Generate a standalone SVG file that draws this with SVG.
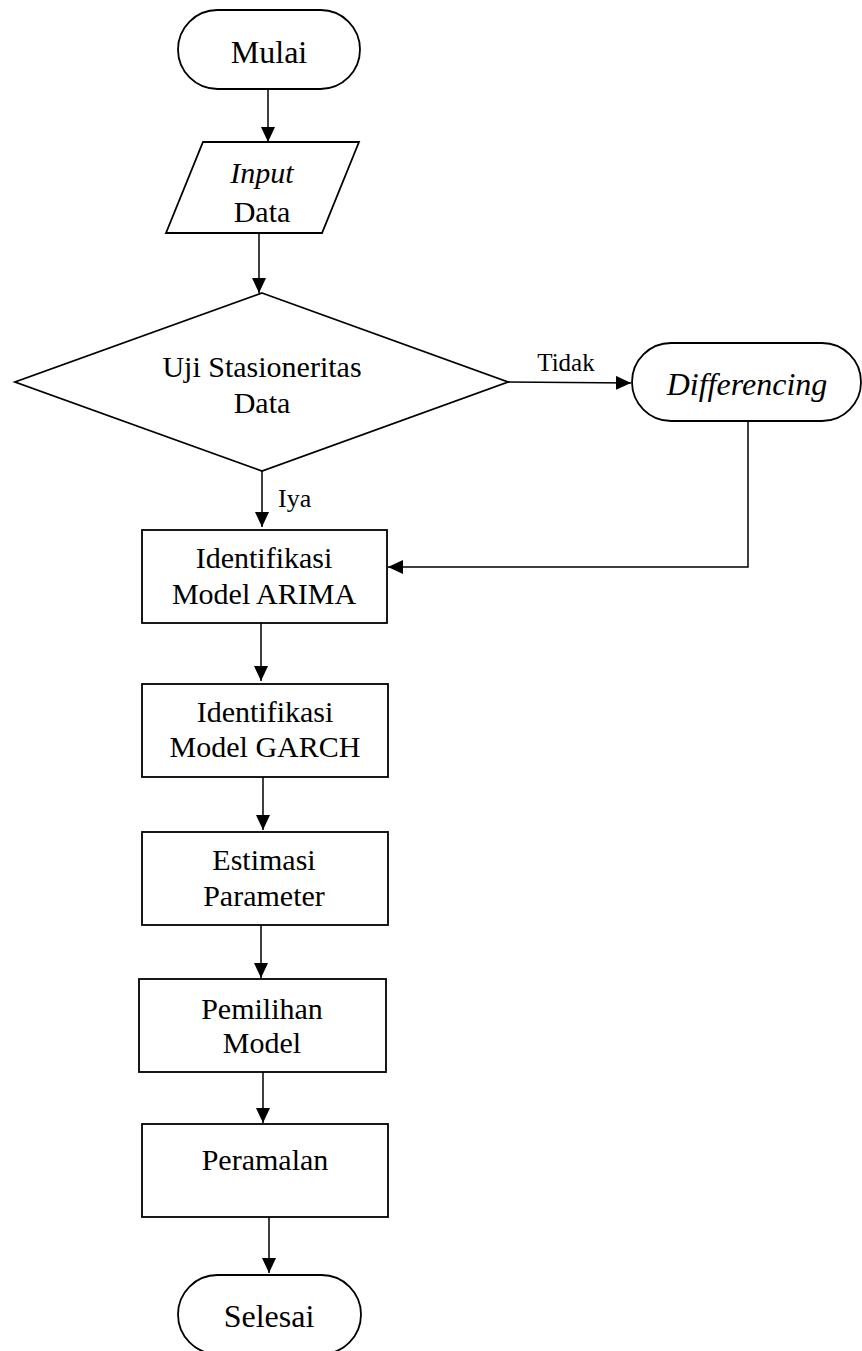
<svg xmlns="http://www.w3.org/2000/svg" width="862" height="1351" viewBox="0 0 862 1351">
<style>
.s{fill:#fff;stroke:#000;stroke-width:1.8}
.c{fill:none;stroke:#000;stroke-width:1.5}
.t{font-family:"Liberation Serif","Times New Roman",serif;fill:#000;text-anchor:middle}
.b{font-size:30px}
.m{font-size:32px}
.l{font-size:25px}
.i{font-style:italic}
</style>
<defs>
<marker id="ah" markerWidth="15" markerHeight="14" refX="15" refY="7" orient="auto" markerUnits="userSpaceOnUse">
<path d="M0,0 L15,7 L0,14 Z" fill="#000"/>
</marker>
</defs>
<rect width="862" height="1351" fill="#fff"/>
<g id="connectors">
<line class="c" x1="268" y1="89" x2="268" y2="142" marker-end="url(#ah)"/>
<line class="c" x1="259" y1="233" x2="259" y2="293" marker-end="url(#ah)"/>
<line class="c" x1="508" y1="382" x2="631" y2="383" marker-end="url(#ah)"/>
<line class="c" x1="262" y1="471" x2="262" y2="527" marker-end="url(#ah)"/>
<polyline class="c" points="748,421 748,567 388,567" marker-end="url(#ah)"/>
<line class="c" x1="261" y1="623" x2="261" y2="681" marker-end="url(#ah)"/>
<line class="c" x1="263" y1="777" x2="263" y2="830" marker-end="url(#ah)"/>
<line class="c" x1="261" y1="925" x2="261" y2="978" marker-end="url(#ah)"/>
<line class="c" x1="263" y1="1072" x2="263" y2="1123" marker-end="url(#ah)"/>
<line class="c" x1="269" y1="1217" x2="269" y2="1273" marker-end="url(#ah)"/>
<text class="t l" x="566" y="371">Tidak</text>
<text class="t l" x="278" y="507" style="text-anchor:start;font-size:26px">Iya</text>
</g>
<g id="mulai">
<rect class="s" x="178" y="10" width="182" height="79" rx="39.5"/>
<text class="t m" x="269" y="63">Mulai</text>
</g>
<g id="input">
<polygon class="s" points="203,142 359,142 322,233 166,233"/>
<text class="t b i" x="262" y="183">Input</text>
<text class="t b" x="262" y="222">Data</text>
</g>
<g id="uji">
<polygon class="s" points="262,293 508,382 262,471 15,382"/>
<text class="t b" x="262" y="377">Uji Stasioneritas</text>
<text class="t b" x="262" y="413">Data</text>
</g>
<g id="differencing">
<rect class="s" x="632" y="343" width="229" height="78" rx="39"/>
<text class="t m i" x="747" y="395">Differencing</text>
</g>
<g id="arima">
<rect class="s" x="142" y="530" width="245" height="93"/>
<text class="t b" x="264" y="568">Identifikasi</text>
<text class="t b" x="264" y="604">Model ARIMA</text>
</g>
<g id="garch">
<rect class="s" x="142" y="684" width="246" height="93"/>
<text class="t b" x="265" y="722">Identifikasi</text>
<text class="t b" x="265" y="757">Model GARCH</text>
</g>
<g id="estimasi">
<rect class="s" x="142" y="832" width="246" height="93"/>
<text class="t b" x="264" y="870">Estimasi</text>
<text class="t b" x="264" y="906">Parameter</text>
</g>
<g id="pemilihan">
<rect class="s" x="139" y="979" width="247" height="93"/>
<text class="t b" x="262" y="1019">Pemilihan</text>
<text class="t b" x="262" y="1053">Model</text>
</g>
<g id="peramalan">
<rect class="s" x="142" y="1124" width="246" height="93"/>
<text class="t b" x="265" y="1170">Peramalan</text>
</g>
<g id="selesai">
<rect class="s" x="178" y="1275" width="183" height="79" rx="39.5"/>
<text class="t m" x="269" y="1327">Selesai</text>
</g>
</svg>
